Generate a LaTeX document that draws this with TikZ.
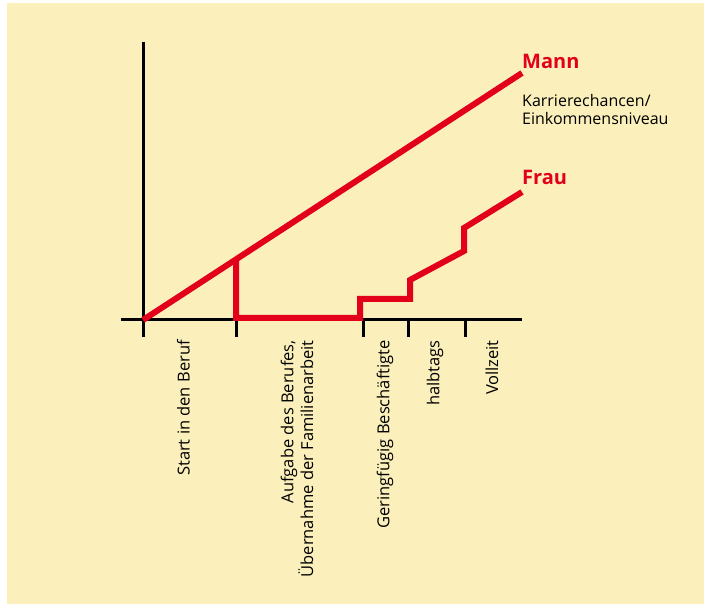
\documentclass[tikz,border=0pt]{standalone}
\usepackage{fontspec}
\setmainfont{Open Sans}
\definecolor{bgyellow}{HTML}{FBF0BB}
\definecolor{dred}{HTML}{E2001A}
\begin{document}
\begin{tikzpicture}[x=1pt,y=1pt,
  axisline/.style={line width=3pt,black},
  redline/.style={line width=6pt,dred,line join=miter},
  biglabel/.style={font=\fontsize{20}{22}\selectfont\bfseries,text=dred,inner sep=0pt,anchor=base west},
  smalllabel/.style={font=\fontsize{16}{18.5}\selectfont,inner sep=0pt,align=left,anchor=base west},
  ticklabel/.style={font=\fontsize{16.5}{17.5}\selectfont,inner sep=0pt,rotate=90,anchor=east,align=right}]
\useasboundingbox (0,0) rectangle (704,605);
\fill[white] (0,0) rectangle (704,605);
\fill[bgyellow] (7,1) rectangle (704,602);
% coordinates
\coordinate (ytop) at (143,563);
\coordinate (ybot) at (143,268);
\coordinate (xl) at (121,285);
\coordinate (xr) at (522,285);
\coordinate (O) at (143,285);
\coordinate (t1a) at (236,285); \coordinate (t1b) at (236,268);
\coordinate (t2a) at (363,285); \coordinate (t2b) at (363,268);
\coordinate (t3a) at (408,285); \coordinate (t3b) at (408,268);
\coordinate (t4a) at (465,285); \coordinate (t4b) at (465,268);
\coordinate (mend) at (522,532);
\coordinate (f1) at (236,346);
\coordinate (f2) at (236,287);
\coordinate (f3) at (360,287);
\coordinate (f4) at (360,306);
\coordinate (f5) at (410,306);
\coordinate (f6) at (410,325);
\coordinate (f7) at (464,354);
\coordinate (f8) at (464,377);
\coordinate (fend) at (522,413);
% axes
\draw[axisline] (ytop) -- (ybot);
\draw[axisline] (xl) -- (xr);
\draw[axisline] (t1a) -- (t1b);
\draw[axisline] (t2a) -- (t2b);
\draw[axisline] (t3a) -- (t3b);
\draw[axisline] (t4a) -- (t4b);
% lines
\draw[redline] (O) -- (mend);
\draw[redline] (f1) -- (f2) -- (f3) -- (f4) -- (f5) -- (f6) -- (f7) -- (f8) -- (fend);
% labels
\node[biglabel] (mann) at (522,536) {Mann};
\node[smalllabel] (karriere) at (522,480) {Karrierechancen/\\Einkommensniveau};
\node[biglabel] (frau) at (522,420) {Frau};
\node[ticklabel] (l1) at (183.5,265) {Start in den Beruf};
\node[ticklabel] (l2) at (297,265) {Aufgabe des Berufes,\\Übernahme der Familienarbeit};
\node[ticklabel] (l3) at (385,265) {Geringfügig Beschäftigte};
\node[ticklabel] (l4) at (435,265) {halbtags};
\node[ticklabel] (l5) at (492,265) {Vollzeit};
\end{tikzpicture}
\end{document}
